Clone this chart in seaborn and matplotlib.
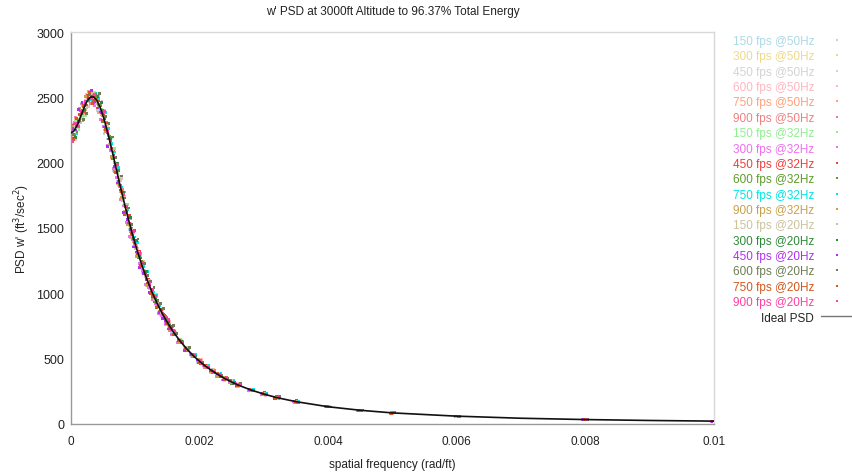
import numpy as np
import pandas as pd
import matplotlib
matplotlib.use("Agg")
import matplotlib.pyplot as plt
from matplotlib.lines import Line2D
import seaborn as sns

# ---------------- data ----------------
scatter_freq = [0.0, 0.00005, 0.0001, 0.00015, 0.0002, 0.00025, 0.0003, 0.00035, 0.0004,
                0.00045, 0.0005, 0.00055, 0.0006, 0.00065, 0.0007, 0.00075, 0.0008, 0.00085,
                0.0009, 0.00095, 0.001, 0.00105, 0.0011, 0.00115, 0.0012, 0.00125, 0.0013,
                0.00135, 0.0014, 0.00145, 0.0015, 0.00155, 0.0016, 0.0018, 0.002, 0.0023,
                0.0026, 0.003, 0.004, 0.005, 0.006, 0.008, 0.01,
                0.0017, 0.0019, 0.0021, 0.0022, 0.0024, 0.0025, 0.0028, 0.0032, 0.0035, 0.0045]

# small frequency-bin offset of each series (rad/ft)
series_freq_shift = [-0.000035, 0.000015, -0.00001, 0.00003, -0.000025, 0.000005,
                     0.000025, -0.00004, 0.00001, -0.000005, 0.000035, -0.00002,
                     0.0, 0.00002, -0.00003, 0.00004, -0.000015, 0.000018]

series_labels = ["150 fps @50Hz", "300 fps @50Hz", "450 fps @50Hz", "600 fps @50Hz",
                 "750 fps @50Hz", "900 fps @50Hz", "150 fps @32Hz", "300 fps @32Hz",
                 "450 fps @32Hz", "600 fps @32Hz", "750 fps @32Hz", "900 fps @32Hz",
                 "150 fps @20Hz", "300 fps @20Hz", "450 fps @20Hz", "600 fps @20Hz",
                 "750 fps @20Hz", "900 fps @20Hz"]

s150_50 = [2268, 2190, 2310, 2283, 2453, 2461, 2526, 2464, 2494, 2398, 2376, 2224, 2181, 2102, 1940,
           1859, 1715, 1674, 1543, 1491, 1360, 1307, 1199, 1157, 1058, 1037, 960, 935, 852, 824, 758,
           746, 692, 583, 469, 379, 292, 233, 134, 83, 61, 33, 23,
           641, 514, 445, 393, 355, 315, 265, 195, 175, 103]
s300_50 = [2168, 2275, 2265, 2403, 2373, 2491, 2486, 2539, 2449, 2453, 2316, 2284, 2151, 2097, 1950,
           1894, 1725, 1659, 1518, 1476, 1370, 1277, 1229, 1124, 1098, 1014, 985, 901, 869, 796, 790,
           730, 717, 563, 486, 365, 308, 224, 129, 87, 58, 35, 21,
           621, 530, 431, 415, 341, 332, 254, 206, 166, 108]
s450_50 = [2243, 2290, 2240, 2363, 2398, 2526, 2466, 2514, 2519, 2413, 2391, 2244, 2216, 2032, 1980,
           1824, 1765, 1609, 1578, 1441, 1385, 1315, 1204, 1174, 1073, 1002, 973, 928, 839, 828, 771,
           756, 687, 585, 474, 386, 290, 235, 134, 84, 62, 33, 22,
           638, 536, 436, 412, 335, 324, 268, 197, 177, 104]
s600_50 = [2198, 2175, 2330, 2338, 2478, 2431, 2506, 2484, 2424, 2468, 2341, 2299, 2136, 2077, 1915,
           1879, 1740, 1684, 1533, 1466, 1345, 1285, 1244, 1134, 1103, 997, 977, 908, 882, 803, 784,
           716, 704, 567, 491, 368, 302, 219, 130, 88, 59, 36, 21,
           627, 516, 451, 402, 352, 311, 256, 210, 168, 107]
s750_50 = [2298, 2225, 2345, 2313, 2433, 2406, 2546, 2494, 2504, 2383, 2366, 2249, 2206, 2042, 2000,
           1839, 1780, 1624, 1568, 1426, 1395, 1310, 1194, 1159, 1063, 1047, 950, 923, 856, 838, 764,
           741, 684, 587, 471, 384, 286, 234, 135, 83, 61, 32, 23,
           645, 527, 433, 414, 338, 328, 266, 199, 173, 102]
s900_50 = [2183, 2305, 2280, 2378, 2383, 2501, 2451, 2524, 2474, 2448, 2326, 2309, 2161, 2037, 1975,
           1819, 1795, 1634, 1583, 1451, 1400, 1270, 1224, 1169, 1071, 1032, 943, 928, 854, 823, 794,
           721, 709, 570, 489, 362, 304, 222, 131, 87, 58, 35, 23,
           630, 534, 448, 396, 358, 319, 253, 208, 165, 106]
s150_32 = [2253, 2325, 2255, 2358, 2358, 2481, 2541, 2474, 2514, 2408, 2401, 2239, 2191, 2107, 1935,
           1864, 1730, 1679, 1513, 1481, 1360, 1303, 1237, 1129, 1095, 1007, 990, 905, 876, 800, 782,
           751, 689, 590, 467, 382, 293, 237, 135, 84, 62, 33, 22,
           643, 519, 429, 409, 349, 330, 263, 194, 176, 107]
s300_32 = [2153, 2255, 2350, 2298, 2448, 2446, 2516, 2549, 2439, 2458, 2331, 2279, 2131, 2092, 1955,
           1889, 1720, 1669, 1543, 1436, 1410, 1280, 1229, 1174, 1065, 1042, 955, 918, 844, 830, 768,
           758, 684, 565, 484, 366, 310, 223, 133, 83, 61, 36, 21,
           624, 532, 446, 399, 336, 313, 252, 207, 169, 103]
s450_32 = [2283, 2205, 2305, 2388, 2393, 2516, 2481, 2509, 2419, 2393, 2376, 2304, 2156, 2087, 1920,
           1874, 1760, 1614, 1593, 1446, 1380, 1320, 1209, 1144, 1105, 1002, 980, 895, 872, 833, 766,
           744, 694, 581, 465, 379, 288, 239, 129, 86, 59, 35, 23,
           639, 512, 449, 416, 351, 325, 267, 198, 178, 108]
s600_32 = [2208, 2295, 2230, 2398, 2428, 2436, 2531, 2459, 2499, 2438, 2311, 2294, 2201, 2027, 1990,
           1834, 1715, 1664, 1533, 1496, 1350, 1275, 1241, 1161, 1075, 1027, 940, 933, 849, 808, 788,
           724, 714, 560, 488, 370, 305, 226, 134, 82, 61, 32, 22,
           622, 526, 437, 395, 356, 312, 258, 209, 167, 104]
s750_32 = [2263, 2220, 2325, 2323, 2468, 2486, 2461, 2529, 2489, 2388, 2386, 2259, 2146, 2082, 1965,
           1814, 1775, 1639, 1573, 1431, 1390, 1305, 1204, 1167, 1088, 1010, 983, 903, 884, 813, 761,
           746, 691, 580, 473, 388, 295, 233, 131, 86, 62, 33, 21,
           636, 533, 452, 411, 339, 333, 264, 196, 174, 107]
s900_32 = [2173, 2280, 2295, 2413, 2373, 2506, 2496, 2469, 2524, 2443, 2361, 2234, 2211, 2047, 1930,
           1884, 1735, 1674, 1523, 1471, 1365, 1283, 1199, 1164, 1061, 1040, 970, 898, 859, 838, 781,
           718, 711, 569, 492, 364, 306, 221, 134, 87, 58, 35, 23,
           626, 518, 432, 403, 354, 317, 255, 205, 164, 102]
s150_20 = [2233, 2270, 2335, 2308, 2443, 2421, 2521, 2534, 2454, 2403, 2396, 2289, 2141, 2102, 1945,
           1869, 1710, 1684, 1548, 1486, 1340, 1313, 1227, 1127, 1098, 1017, 950, 938, 852, 826, 796,
           731, 707, 587, 475, 380, 288, 238, 134, 83, 59, 35, 22,
           644, 529, 443, 417, 343, 327, 268, 200, 175, 105]
s300_20 = [2188, 2195, 2315, 2373, 2408, 2496, 2511, 2479, 2509, 2463, 2336, 2229, 2186, 2057, 1995,
           1829, 1770, 1629, 1583, 1421, 1405, 1290, 1234, 1169, 1068, 1034, 957, 901, 879, 798, 786,
           748, 681, 566, 485, 363, 303, 225, 130, 87, 61, 32, 23,
           629, 513, 434, 398, 353, 310, 254, 210, 168, 107]
s450_20 = [2288, 2260, 2250, 2408, 2458, 2451, 2476, 2554, 2464, 2418, 2381, 2274, 2126, 2097, 1970,
           1844, 1790, 1619, 1563, 1491, 1355, 1317, 1197, 1154, 1108, 1007, 977, 931, 854, 806, 791,
           726, 719, 561, 490, 383, 291, 235, 133, 84, 62, 35, 21,
           640, 531, 450, 408, 337, 329, 262, 197, 177, 103]
s600_20 = [2218, 2285, 2320, 2328, 2378, 2521, 2471, 2519, 2529, 2398, 2351, 2299, 2196, 2037, 1940,
           1899, 1730, 1654, 1528, 1481, 1415, 1270, 1231, 1139, 1093, 1047, 945, 921, 886, 810, 756,
           754, 693, 584, 471, 369, 309, 227, 131, 88, 59, 33, 23,
           623, 521, 430, 394, 350, 316, 257, 208, 166, 108]
s750_20 = [2273, 2180, 2340, 2368, 2438, 2441, 2536, 2454, 2484, 2473, 2321, 2254, 2181, 2112, 1925,
           1859, 1780, 1604, 1588, 1456, 1385, 1300, 1214, 1171, 1078, 997, 985, 893, 874, 836, 771,
           744, 684, 579, 467, 387, 292, 236, 134, 83, 61, 33, 23,
           637, 535, 447, 413, 340, 331, 265, 194, 174, 104]
s900_20 = [2163, 2300, 2275, 2393, 2468, 2476, 2491, 2524, 2444, 2433, 2391, 2239, 2166, 2052, 1985,
           1824, 1755, 1669, 1538, 1471, 1355, 1307, 1239, 1137, 1073, 1030, 977, 908, 846, 823, 798,
           721, 709, 564, 487, 381, 307, 224, 131, 86, 58, 36, 22,
           625, 522, 435, 401, 357, 314, 253, 206, 167, 106]

series_values = [s150_50, s300_50, s450_50, s600_50, s750_50, s900_50,
                 s150_32, s300_32, s450_32, s600_32, s750_32, s900_32,
                 s150_20, s300_20, s450_20, s600_20, s750_20, s900_20]

ideal_freq = [0.0, 0.00005, 0.0001, 0.00015, 0.0002, 0.00025, 0.0003, 0.00035, 0.0004, 0.00045,
              0.0005, 0.00055, 0.0006, 0.00065, 0.0007, 0.00075, 0.0008, 0.00085, 0.0009, 0.00095,
              0.001, 0.00105, 0.0011, 0.00115, 0.0012, 0.00125, 0.0013, 0.00135, 0.0014, 0.00145,
              0.0015, 0.00155, 0.0016, 0.0017, 0.0018, 0.0019, 0.002, 0.0021, 0.0022, 0.0023,
              0.0024, 0.0025, 0.0026, 0.0028, 0.003, 0.0032, 0.0035, 0.004, 0.0045, 0.005,
              0.006, 0.007, 0.008, 0.009, 0.01]
ideal_psd = [2228, 2245, 2290, 2353, 2418, 2471, 2501, 2504, 2479, 2428,
             2356, 2269, 2171, 2067, 1960, 1854, 1750, 1649, 1553, 1461,
             1375, 1295, 1219, 1149, 1083, 1022, 965, 913, 864, 818,
             776, 736, 699, 633, 575, 524, 479, 440, 405, 374,
             346, 321, 298, 260, 229, 202, 171, 132, 105, 85,
             60, 44, 34, 27, 22]

series_colors = ["#add8e6", "#eed98a", "#d3d3d3", "#ffb6c1", "#ffa07a", "#f08080",
                 "#90ee90", "#ee70ee", "#f03c3c", "#5f9a2a", "#00e5e5", "#c9a04a",
                 "#cbc29e", "#2e8a3a", "#b030f0", "#6e7d55", "#d2581e", "#ff3fa0"]

x_ticks = [0, 0.002, 0.004, 0.006, 0.008, 0.01]
x_tick_labels = ["0", "0.002", "0.004", "0.006", "0.008", "0.01"]
y_ticks = [0, 500, 1000, 1500, 2000, 2500, 3000]

# ---------------- plot ----------------
sns.set_style("white")
plt.rcParams["font.family"] = ["Liberation Sans", "DejaVu Sans"]
plt.rcParams["font.size"] = 8.5

rows = []
for lab, shift, vals in zip(series_labels, series_freq_shift, series_values):
    for f, v in zip(scatter_freq, vals):
        rows.append((lab, f + shift, v))
df = pd.DataFrame(rows, columns=["series", "freq", "psd"])
ideal_df = pd.DataFrame({"freq": ideal_freq, "psd": ideal_psd})

fig = plt.figure(figsize=(8.52, 4.77), dpi=100)
ax = fig.add_axes([71 / 852, 1 - 425 / 477, (714 - 71) / 852, (425 - 33) / 477])

palette = dict(zip(series_labels, series_colors))
sns.scatterplot(data=df, x="freq", y="psd", hue="series", hue_order=series_labels,
                palette=palette, s=3.8, marker="s", linewidth=0, legend=False, ax=ax, zorder=2)
sns.lineplot(data=ideal_df, x="freq", y="psd", color="#111111", linewidth=1.2, ax=ax, zorder=3)

ax.set_xlim(0, 0.01)
ax.set_ylim(0, 3000)
ax.set_xticks(x_ticks)
ax.set_xticklabels(x_tick_labels)
ax.set_yticks(y_ticks)
ax.tick_params(axis="both", direction="in", length=4.5, width=0.8, color="#999999",
               labelcolor="#222222", labelsize=8.5)
ax.tick_params(axis="x", pad=8)
ax.tick_params(axis="y", pad=5, labelsize=9)
for side in ["left", "bottom"]:
    ax.spines[side].set_color("#999999")
    ax.spines[side].set_linewidth(1.0)
for side in ["top", "right"]:
    ax.spines[side].set_color("#d8d8d8")
    ax.spines[side].set_linewidth(1.0)

ax.set_xlabel("spatial frequency (rad/ft)", fontsize=8.5, labelpad=8, color="#222222")
ax.set_ylabel("PSD w' (ft$^3$/sec$^2$)", fontsize=8.5, labelpad=3, color="#222222")
ax.set_title("w' PSD at 3000ft Altitude to 96.37% Total Energy", fontsize=8.5, pad=13,
             color="#222222")

handles = [Line2D([], [], linestyle="none", marker="s", markersize=1.6,
                  markerfacecolor=c, markeredgewidth=0) for c in series_colors]
handles.append(Line2D([], [], color="#777777", linewidth=1.0))
labels = series_labels + ["Ideal PSD"]
leg = fig.legend(handles, labels, loc="upper right", bbox_to_anchor=(1.0, 1 - 36 / 477),
                 frameon=False, markerfirst=False, handlelength=2.6, handletextpad=0.6,
                 labelspacing=0.285, fontsize=8.5, borderaxespad=0, borderpad=0)
for txt, c in zip(leg.get_texts(), series_colors + ["#222222"]):
    txt.set_color(c)

fig.savefig("out.png", dpi=100)
